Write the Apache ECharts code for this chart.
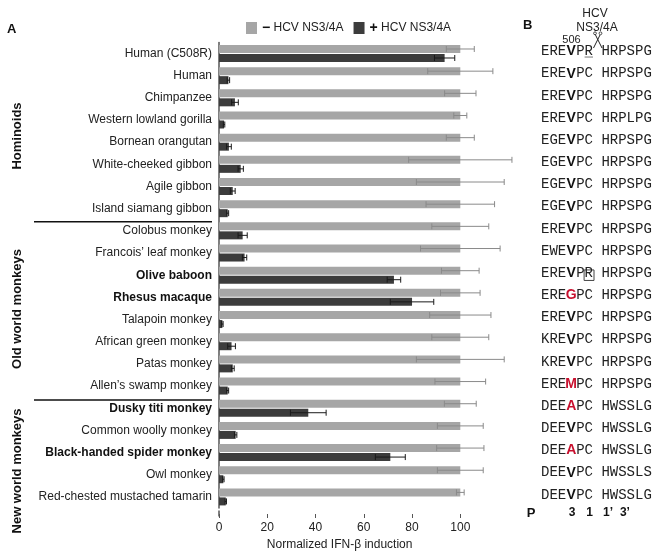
<!DOCTYPE html>
<html>
<head>
<meta charset="utf-8">
<script src="https://cdn.jsdelivr.net/npm/echarts@6/dist/echarts.min.js"></script>
<style>html,body{margin:0;padding:0;background:#fff}#c{width:656px;height:556px}</style>
</head>
<body>
<div id="c"></div>
<script>
// ---------- data ----------
const species = ["Human (C508R)", "Human", "Chimpanzee", "Western lowland gorilla", "Bornean orangutan",
  "White-cheeked gibbon", "Agile gibbon", "Island siamang gibbon", "Colobus monkey", "Francois\u2019 leaf monkey",
  "Olive baboon", "Rhesus macaque", "Talapoin monkey", "African green monkey", "Patas monkey",
  "Allen\u2019s swamp monkey", "Dusky titi monkey", "Common woolly monkey", "Black-handed spider monkey",
  "Owl monkey", "Red-chested mustached tamarin"];
const boldSpecies = ["Olive baboon", "Rhesus macaque", "Dusky titi monkey", "Black-handed spider monkey"];
const withoutHCV = [100, 100, 100, 100, 100, 100, 100, 100, 100, 100, 100, 100, 100, 100, 100, 100, 100, 100, 100, 100, 100];
const withoutHCVErr = [5.8, 13.5, 6.5, 2.7, 5.8, 21.4, 18.2, 14.2, 11.8, 16.5, 7.8, 8.2, 12.7, 11.8, 18.2, 10.5, 6.6, 9.5, 9.8, 9.5, 1.6];
const withHCV = [93.5, 3.9, 6.6, 2.1, 4.1, 9.0, 5.7, 3.6, 9.8, 10.6, 72.5, 80.0, 1.4, 5.2, 5.7, 3.6, 37.0, 6.9, 71.0, 1.8, 2.8];
const withHCVErr = [4.2, 0.5, 1.4, 0.3, 1.0, 1.1, 1.0, 0.4, 1.9, 0.9, 2.8, 9.0, 0.3, 1.6, 0.6, 0.4, 7.4, 0.5, 6.2, 0.3, 0.3];
const sequences = ["EREVPR HRPSPG", "EREVPC HRPSPG", "EREVPC HRPSPG", "EREVPC HRPLPG", "EGEVPC HRPSPG",
  "EGEVPC HRPSPG", "EGEVPC HRPSPG", "EGEVPC HRPSPG", "EREVPC HRPSPG", "EWEVPC HRPSPG",
  "EREVPR HRPSPG", "EREGPC HRPSPG", "EREVPC HRPSPG", "KREVPC HRPSPG", "KREVPC HRPSPG",
  "EREMPC HRPSPG", "DEEAPC HWSSLG", "DEEVPC HWSSLG", "DEEAPC HWSSLG", "DEEVPC HWSSLS", "DEEVPC HWSSLG"];
const redResidueRows = ["Rhesus macaque", "Allen\u2019s swamp monkey", "Dusky titi monkey", "Black-handed spider monkey"];
const groupNames = ["Hominoids", "Old world monkeys", "New world monkeys"];
const xTicks = [0, 20, 40, 60, 80, 100];
const seriesNames = ["\u2212 HCV NS3/4A", "+ HCV NS3/4A"];
const positionLabels = ["3", "1", "1\u2019", "3\u2019"];

// ---------- layout ----------
const FONT = "Liberation Sans";
const GL = 219, GT = 42.4, GW = 241.3, GH = 468.1;
const band = GH / species.length;
const rowY = i => GT + (i + 0.5) * band;
const groupCY = [136, 309, 471];
const SEQ_X0 = 541, CH = 8.4, VW = 10;
const charX = i => i < 3 ? SEQ_X0 + i * CH : (i === 3 ? SEQ_X0 + 3 * CH : SEQ_X0 + 3 * CH + VW + (i - 4) * CH);
const charW = i => i === 3 ? VW : CH;
const LIGHT = "#a6a6a6", DARK = "#3c3c3c";
const BW = 8, GAPPX = 1;

const chart = echarts.init(document.getElementById("c"), null, {renderer: "canvas"});

function errSeries(vals, errs, offset, color) {
  return {
    type: "custom", yAxisIndex: 0, silent: true, clip: false, z: 5,
    encode: {x: [0, 1, 2], y: 3},
    data: vals.map((v, i) => [v, v - errs[i], v + errs[i], i]),
    renderItem: function (params, api) {
      const lo = api.coord([api.value(1), api.value(3)]);
      const hi = api.coord([api.value(2), api.value(3)]);
      const y = lo[1] + offset;
      const cap = 3;
      const st = {stroke: color, lineWidth: 1};
      return {type: "group", children: [
        {type: "line", shape: {x1: lo[0], y1: y, x2: hi[0], y2: y}, style: st},
        {type: "line", shape: {x1: lo[0], y1: y - cap, x2: lo[0], y2: y + cap}, style: st},
        {type: "line", shape: {x1: hi[0], y1: y - cap, x2: hi[0], y2: y + cap}, style: st}
      ]};
    }
  };
}

const graphics = [];
graphics.push({type: "text", left: 7, top: 23, style: {text: "A", font: "bold 13px " + FONT, fill: "#111"}});
graphics.push({type: "text", left: 523, top: 19, style: {text: "B", font: "bold 13px " + FONT, fill: "#111"}});
// group labels
groupNames.forEach((g, k) => {
  graphics.push({type: "text", x: 17, y: groupCY[k], rotation: Math.PI / 2,
    style: {text: g, font: "bold 13px " + FONT, fill: "#111", textAlign: "center", textVerticalAlign: "middle"}});
});
// separators
[8, 16].forEach(k => {
  const y = GT + k * band + 1;
  graphics.push({type: "line", shape: {x1: 34, y1: y, x2: 212, y2: y}, style: {stroke: "#111", lineWidth: 1.5}});
});
// extension of y axis line down to the x ticks
graphics.push({type: "line", shape: {x1: GL, y1: GT + GH, x2: GL, y2: GT + GH + 6}, style: {stroke: "#555", lineWidth: 1.5}});
// panel B header
graphics.push({type: "text", x: 595, y: 14, style: {text: "HCV", font: "12px " + FONT, fill: "#222", textAlign: "center", textVerticalAlign: "middle"}});
graphics.push({type: "text", x: 597, y: 28, style: {text: "NS3/4A", font: "12px " + FONT, fill: "#222", textAlign: "center", textVerticalAlign: "middle"}});
graphics.push({type: "text", x: 571.5, y: 40, style: {text: "506", font: "11px " + FONT, fill: "#222", textAlign: "center", textVerticalAlign: "middle"}});
// scissors
graphics.push({type: "line", shape: {x1: 595.5, y1: 35, x2: 602, y2: 48}, style: {stroke: "#222", lineWidth: 1}});
graphics.push({type: "line", shape: {x1: 600, y1: 35, x2: 593.5, y2: 48}, style: {stroke: "#222", lineWidth: 1}});
graphics.push({type: "circle", shape: {cx: 595, cy: 33.3, r: 1.4}, style: {stroke: "#222", fill: "none", lineWidth: 0.8}});
graphics.push({type: "circle", shape: {cx: 600.5, cy: 33.3, r: 1.4}, style: {stroke: "#222", fill: "none", lineWidth: 0.8}});
// underline of R (row 0) and box round R (row 10)
graphics.push({type: "line", shape: {x1: charX(5), y1: rowY(0) + 3.5, x2: charX(5) + CH, y2: rowY(0) + 3.5}, style: {stroke: "#777", lineWidth: 1}});
graphics.push({type: "rect", shape: {x: charX(5) - 0.5, y: rowY(10) - 6.5, width: CH + 1.5, height: 10.5}, style: {stroke: "#444", fill: "none", lineWidth: 1}});
// P row
graphics.push({type: "text", x: 531, y: 513, style: {text: "P", font: "bold 13px " + FONT, fill: "#111", textAlign: "center", textVerticalAlign: "middle"}});
[3, 5, 7, 9].forEach((ci, k) => {
  graphics.push({type: "text", x: charX(ci) + charW(ci) / 2 - 2.5, y: 513,
    style: {text: positionLabels[k], font: "bold 12px " + FONT, fill: "#111", textAlign: "left", textVerticalAlign: "middle"}});
});

const option = {
  animation: false,
  textStyle: {fontFamily: FONT},
  legend: {
    data: seriesNames, left: 241, top: 16, itemWidth: 11, itemHeight: 12, itemGap: 10,
    icon: "rect", selectedMode: false,
    textStyle: {fontSize: 12, color: "#222", fontFamily: FONT, rich: {s: {fontSize: 14, fontWeight: "bold", color: "#111", fontFamily: FONT}}},
    formatter: n => "{s|" + n.charAt(0) + "}" + n.slice(1)
  },
  grid: {left: GL, top: GT, width: GW, height: GH, containLabel: false},
  xAxis: {
    type: "value", min: 0, max: 100, interval: 20, offset: 6,
    axisLine: {show: false},
    axisTick: {show: true, length: 4, lineStyle: {color: "#555"}, customValues: xTicks},
    axisLabel: {fontSize: 12, color: "#222", margin: 8, customValues: xTicks},
    splitLine: {show: false},
    name: "Normalized IFN-\u03b2 induction", nameLocation: "middle", nameGap: 25,
    nameTextStyle: {fontSize: 12, color: "#222"}
  },
  yAxis: [
    {
      type: "category", data: species, inverse: true,
      axisLine: {show: true, lineStyle: {color: "#555", width: 1.5}},
      axisTick: {show: false},
      axisLabel: {interval: 0, margin: 7, fontSize: 12, color: "#222",
        formatter: v => boldSpecies.includes(v) ? "{b|" + v + "}" : v,
        rich: {b: {fontWeight: "bold", fontSize: 12, color: "#111", fontFamily: FONT}}}
    },
    {
      type: "category", data: species, inverse: true, position: "right",
      axisLine: {show: false}, axisTick: {show: false},
      axisLabel: {interval: 0, margin: SEQ_X0 - (GL + GW), fontSize: 14, color: "#222", padding: [0, 0, 4, 0],
        formatter: (v, i) => {
          const s = sequences[i];
          const st = redResidueRows.includes(v) ? "r" : "v";
          return "{n|" + s.slice(0, 3) + "}{" + st + "|" + s.charAt(3) + "}{n|" + s.slice(4) + "}";
        },
        rich: {
          n: {fontFamily: "Liberation Mono", fontSize: 14, color: "#222"},
          v: {fontFamily: FONT, fontWeight: "bold", fontSize: 14, color: "#111", width: VW, align: "center"},
          r: {fontFamily: FONT, fontWeight: "bold", fontSize: 14, color: "#c8102e", width: VW, align: "center"}
        }}
    }
  ],
  series: [
    {name: seriesNames[0], type: "bar", yAxisIndex: 0, data: withoutHCV, barWidth: BW, barGap: "12.5%",
      itemStyle: {color: LIGHT}, z: 2},
    {name: seriesNames[1], type: "bar", yAxisIndex: 0, data: withHCV, barWidth: BW, barGap: "12.5%",
      itemStyle: {color: DARK}, z: 2},
    errSeries(withoutHCV, withoutHCVErr, -(BW + GAPPX) / 2, "#8a8a8a"),
    errSeries(withHCV, withHCVErr, (BW + GAPPX) / 2, "#1a1a1a")
  ],
  graphic: graphics
};
chart.setOption(option);
</script>
</body>
</html>
